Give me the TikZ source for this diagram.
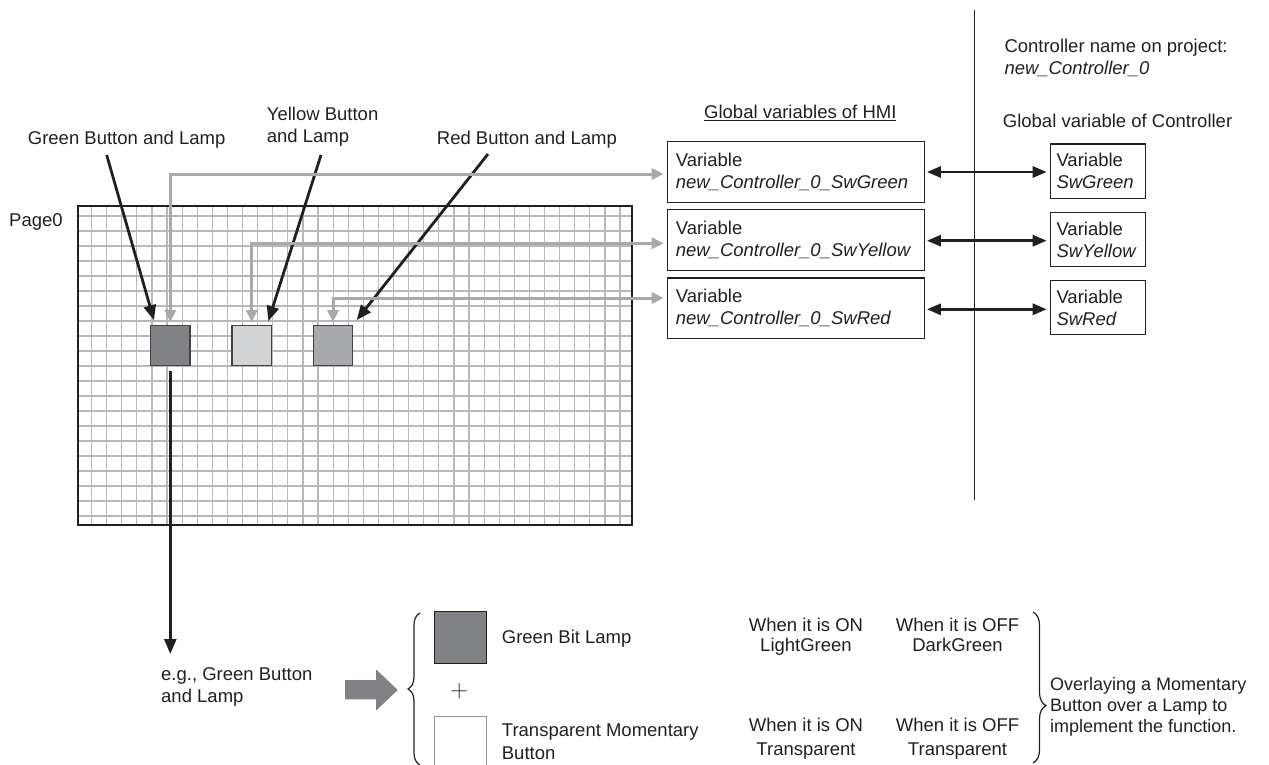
\documentclass[tikz,border=0pt]{standalone}
\usepackage{fontspec}
\setmainfont{Liberation Sans}
\usetikzlibrary{arrows.meta,decorations.pathreplacing}
\definecolor{ink}{HTML}{231F20}
\definecolor{dkgray}{HTML}{808285}
\definecolor{ltgray}{HTML}{D1D3D4}
\definecolor{mdgray}{HTML}{A7A9AC}
\definecolor{gridgray}{HTML}{B8B8B8}
\definecolor{arrgray}{HTML}{A7A9AC}
\definecolor{btngray}{HTML}{939598}
\tikzset{
  every node/.style={font=\fontsize{18.5}{22}\selectfont, inner sep=0pt, text=ink},
  gridline/.style={draw=gridgray, line width=1.2pt},
  pagebox/.style={draw=ink, line width=2.2pt, minimum width=554pt, minimum height=319pt},
  sqbox/.style={draw=ink!85, line width=1.2pt, minimum size=39.5pt},
  hmibox/.style={draw=ink, line width=1.2pt, minimum width=257pt, minimum height=60.5pt,
    text width=240pt, inner xsep=8.5pt, align=left},
  ctrlbox/.style={draw=ink, line width=1.2pt, minimum width=95.4pt, minimum height=54.3pt,
    text width=83pt, inner xsep=6.2pt, align=left},
  blk/.style={draw=ink, line width=2.8pt, -{Triangle[length=15pt,width=12pt]}},
  garr/.style={draw=arrgray, line width=3pt,
    {Triangle[length=12pt,width=11pt]}-{Triangle[length=12pt,width=11pt]}},
  dbl/.style={draw=ink, line width=2.8pt,
    {Triangle[length=14pt,width=11pt]}-{Triangle[length=14pt,width=11pt]}},
  divider/.style={draw=ink, line width=1.2pt},
  bracestyle/.style={draw=ink, line width=1.2pt, decorate},
}
\begin{document}
\begin{tikzpicture}[x=1pt,y=-1pt]
\useasboundingbox (0,0) rectangle (1269,765);
\clip (0,0) rectangle (1269,765);

% grid (page)
\begin{scope}
\clip (78,206) rectangle (632,525);
\foreach \i in {0,...,35} \draw[gridline] ({91.5+15.1*\i},206) -- ++(0,319);
\foreach \j in {0,...,20} \draw[gridline] (78,{216+15*\j}) -- (632,{216+15*\j});
\end{scope}
\node[pagebox] (page) at (355,365.5) {};
\node[anchor=base west] (pagelbl) at (9,226.7) {Page0};

% squares
\node[sqbox, fill=dkgray] (sqg) at (170.3,345.5) {};
\node[sqbox, fill=ltgray] (sqy) at (251.7,345.5) {};
\node[sqbox, fill=mdgray] (sqr) at (333,345.5) {};

% labels (base anchor = last line)
\node[anchor=base west] (lgreen) at (27.7,145) {Green Button and Lamp};
\node[anchor=base west, align=left] (lyellow) at (266.7,142.7) {Yellow Button\\and Lamp};
\node[anchor=base west] (lred) at (436.7,145) {Red Button and Lamp};
\coordinate (gs) at (106.7,155);
\coordinate (ys) at (321,155);
\coordinate (rs) at (488,154);
\draw[blk] (gs) -- ([xshift=4pt,yshift=5pt]sqg.north west);
\draw[blk] (ys) -- ([xshift=-3.7pt,yshift=4pt]sqy.north east);
\draw[blk] (rs) -- ([xshift=3.3pt,yshift=5pt]sqr.north east);

% HMI variables
\node[anchor=base west] (hmititle) at (704,119) {\underline{Global variables of HMI}};
\node[hmibox] (h1) at (795.8,172) {Variable\\\textit{new\_Controller\_0\_SwGreen}};
\node[hmibox] (h2) at (795.8,240) {Variable\\\textit{new\_Controller\_0\_SwYellow}};
\node[hmibox] (h3) at (795.8,308.3) {Variable\\\textit{new\_Controller\_0\_SwRed}};

\draw[garr, shorten <=3pt, shorten >=3pt] ([yshift=-2pt]h1.west) -| (sqg.north);
\draw[garr, shorten <=3pt, shorten >=3pt] ([yshift=-3.3pt]h2.west) -| (sqy.north);
\draw[garr, shorten <=3pt, shorten >=3pt] ([yshift=10.3pt]h3.west) -| (sqr.north);

% controller side
\coordinate (vt) at (974.3,10);
\coordinate (vb) at (974.3,500);
\draw[divider] (vt) -- (vb);
\node[anchor=base west, align=left] (cname) at (1004.3,75) {Controller name on project:\\\textit{new\_Controller\_0}};
\node[anchor=base west] (ctitle) at (1002.7,127.7) {Global variable of Controller};
\node[ctrlbox] (c1) at (1098,171.2) {Variable\\\textit{SwGreen}};
\node[ctrlbox] (c2) at (1098,239.5) {Variable\\\textit{SwYellow}};
\node[ctrlbox] (c3) at (1098,307.5) {Variable\\\textit{SwRed}};
\draw[dbl, shorten <=2pt, shorten >=3pt] (h1.east) -- (h1.east -| c1.west);
\draw[dbl, shorten <=2pt, shorten >=3pt] ([yshift=-0.7pt]h2.east) -- ([yshift=-0.7pt]h2.east -| c2.west);
\draw[dbl, shorten <=2pt, shorten >=3pt] ([yshift=-1pt]h3.east) -- ([yshift=-1pt]h3.east -| c3.west);

% example
\coordinate (egtip) at (170.3,654);
\draw[blk] ([yshift=-5pt]sqg.south) -- (egtip);
\node[anchor=base west, align=left] (eg) at (161,702.7) {e.g., Green Button\\and Lamp};
\fill[dkgray] (345,680) -- (376,680) -- (376,669.3) -- (397.7,690) -- (376,710.7) -- (376,699.3) -- (345,699.3) -- cycle;
\draw[bracestyle, decoration={brace, amplitude=12pt}] (420,765) -- (420,613);
\node[draw=ink, line width=1.5pt, fill=dkgray, minimum width=52.4pt, minimum height=51.6pt] (lamp) at (460.5,637.5) {};
\node (plus) at (459.3,691) {\fontsize{34}{34}\selectfont$+$};
\node[draw=btngray, line width=1.5pt, minimum width=52.4pt, minimum height=52pt] (tbtn) at (460.5,742.7) {};
\node[anchor=base west] (gbl) at (501.7,643.3) {Green Bit Lamp};
\node[anchor=base west, align=left, font=\fontsize{18.5}{22.6}\selectfont] (tmb) at (501.7,759.3) {Transparent Momentary\\Button};
\node[anchor=base, align=center, font=\fontsize{18.5}{20}\selectfont] (on1) at (806,651.5) {When it is ON\\LightGreen};
\node[anchor=base, align=center, font=\fontsize{18.5}{20}\selectfont] (off1) at (957.5,651.5) {When it is OFF\\DarkGreen};
\node[anchor=base, align=center, font=\fontsize{18.5}{23.3}\selectfont] (on2) at (806,755) {When it is ON\\Transparent};
\node[anchor=base, align=center, font=\fontsize{18.5}{23.3}\selectfont] (off2) at (957.5,755) {When it is OFF\\Transparent};
\draw[bracestyle, decoration={brace, amplitude=13pt, aspect=0.62}] (1033,612) -- (1033,763);
\node[anchor=base west, align=left, font=\fontsize{18}{21}\selectfont] (ovl) at (1050,732) {Overlaying a Momentary\\Button over a Lamp to\\implement the function.};
\end{tikzpicture}
\end{document}
